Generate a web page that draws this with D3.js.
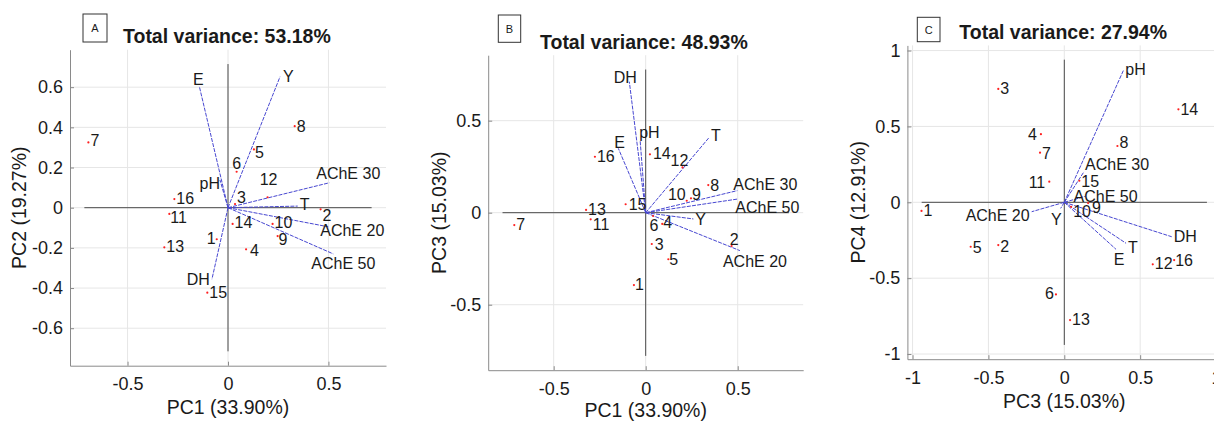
<!DOCTYPE html>
<html>
<head>
<meta charset="utf-8">
<script src="https://cdn.jsdelivr.net/npm/d3@7"></script>
<style>
    body { margin: 0; background: #fff; }
    svg text { font-family: "Liberation Sans", Arial, Helvetica, sans-serif; fill: #1a1a1a; }
</style>
</head>
<body>
<div id="chart"></div>
<script>

/* Observations (samples) and variables */
var obsNames = ["1", "2", "3", "4", "5", "6", "7", "8", "9", "10", "11", "12", "13", "14", "15", "16"];
var varNames = ["E", "Y", "pH", "AChE 30", "T", "AChE 20", "AChE 50", "DH"];

/* Panel A : PC1 vs PC2 */
var scoresA = [[-0.056, -0.157], [0.461, -0.008], [0.035, 0.018], [0.09, -0.207], [0.129, 0.29], [0.043, 0.179],
               [-0.695, 0.325], [0.332, 0.406], [0.247, -0.141], [0.222, -0.081], [-0.292, -0.031], [0.197, 0.052],
               [-0.317, -0.197], [0.023, -0.081], [-0.103, -0.423], [-0.267, 0.043]];
var loadingsA = [[-0.143, 0.605], [0.259, 0.652], [-0.04, 0.138], [0.504, 0.124], [0.347, 0.008], [0.499, -0.095],
                 [0.524, -0.23], [-0.08, -0.356]];

/* Panel B : PC1 vs PC3 */
var scoresB = [[-0.064, -0.393], [0.467, -0.181], [0.033, -0.17], [0.09, -0.061], [0.123, -0.253], [0.04, -0.018],
               [-0.714, -0.067], [0.34, 0.15], [0.246, 0.078], [0.223, 0.065], [-0.299, -0.036], [0.2, 0.246],
               [-0.324, 0.015], [0.023, 0.317], [-0.109, 0.046], [-0.276, 0.304]];
var loadingsB = [[-0.149, 0.35], [0.259, -0.034], [-0.03, 0.39], [0.498, 0.12], [0.344, 0.408], [0.512, -0.206],
                 [0.498, 0.074], [-0.089, 0.712]];

/* Panel C : PC3 vs PC4 */
var scoresC = [[-0.941, -0.057], [-0.435, -0.282], [-0.435, 0.747], [-0.154, 0.449], [-0.617, -0.293], [-0.055, -0.607],
               [-0.16, 0.327], [0.35, 0.371], [0.157, -0.005], [0.045, -0.03], [-0.099, 0.136], [0.583, -0.409],
               [0.038, -0.776], [0.752, 0.613], [0.099, 0.142], [0.724, -0.381]];
var loadingsC = [[0.341, -0.31], [-0.024, -0.04], [0.389, 0.868], [0.13, 0.202], [0.407, -0.27], [-0.215, -0.062],
                 [0.14, 0.04], [0.708, -0.227]];

/* Axis extent of the biplot reference lines */
var axisLens = [0.715, 0.778, 0.94];

/* Texts */
var panelTags = ["A", "B", "C"];
var titles = ["Total variance: 53.18%", "Total variance: 48.93%", "Total variance: 27.94%"];
var xLabels = ["PC1 (33.90%)", "PC1 (33.90%)", "PC3 (15.03%)"];
var yLabels = ["PC2 (19.27%)", "PC3 (15.03%)", "PC4 (12.91%)"];

/* Ticks */
var xTicksA = [-0.5, 0, 0.5], yTicksA = [-0.6, -0.4, -0.2, 0, 0.2, 0.4, 0.6];
var xTicksB = [-0.5, 0, 0.5], yTicksB = [-0.5, 0, 0.5];
var xTicksC = [-1, -0.5, 0, 0.5, 1], yTicksC = [-1, -0.5, 0, 0.5, 1];

/* Label nudges [dx, dy, anchor] (placement only) */
var obsNudgeA = { "1": [-1, 5, "end"], "2": [2, 12], "3": [2, -1], "4": [4, 7], "5": [1, 9], "6": [0, -3, "middle"],
                  "7": [2, 4], "8": [2, 6], "9": [1, 9], "10": [2, 4], "11": [1, 9], "12": [1, -12, "middle"],
                  "14": [2, 4] };
var varNudgeA = { "E": [-1, -1, "middle"], "Y": [3, 5], "pH": [0, 9, "end"], "AChE 30": [-13, -4], "T": [2, 4],
                  "AChE 20": [-8, 9], "AChE 50": [-22, 15], "DH": [-2, 6, "end"] };
var obsNudgeB = { "1": [1, 5], "2": [-2, -1], "3": [3, 6], "4": [1, 4], "5": [1, 6], "6": [1, 15, "middle"],
                  "8": [2, 6], "9": [1, 2], "10": [-1, -1, "end"], "11": [2, 11], "12": [-3, -1, "middle"],
                  "14": [3, 5], "15": [3, 6] };
var varNudgeB = { "DH": [-4, 1, "middle"], "pH": [-1, -3], "E": [-4, 0], "T": [2, 3], "AChE 30": [-4, -1],
                  "AChE 50": [-2, 14], "Y": [2, 6], "AChE 20": [-17, 16] };
var obsNudgeC = { "2": [2, 7], "4": [-4, 6, "end"], "5": [2, 6], "6": [-2, 5, "end"], "7": [2, 6], "8": [2, 2],
                  "9": [4, 10], "10": [2, 10], "11": [-4, 6, "end"], "14": [2, 6], "15": [2, 6], "16": [1, 6] };
var varNudgeC = { "pH": [2, 4], "AChE 30": [1, -2], "AChE 50": [-12, 6], "AChE 20": [-2, 9, "end"],
                  "Y": [1, 17, "end"], "DH": [2, 5], "T": [2, 10], "E": [3, 16, "middle"] };

var fontFamily = "'Liberation Sans', Arial, Helvetica, sans-serif";

var svg = d3.select("#chart")
    .append("svg")
    .attr("width", 1214)
    .attr("height", 421);

function drawBiplot(cfg) {

    var lim = cfg.axisLen * 1.1;
    var x = d3.scaleLinear().domain([-lim, lim]).range([cfg.left, cfg.left + cfg.size]);
    var y = d3.scaleLinear().domain([-lim, lim]).range([cfg.top + cfg.size, cfg.top]);
    var bottom = cfg.top + cfg.size;
    var fmt = function(d) { return String(d); };

    var g = svg.append("g");

    /* Grid */
    g.append("g").selectAll("line")
        .data(cfg.xTicks)
        .enter().append("line")
        .attr("x1", function(d) { return x(d); })
        .attr("x2", function(d) { return x(d); })
        .attr("y1", cfg.top)
        .attr("y2", bottom)
        .attr("stroke", "#e6e6e6");

    g.append("g").selectAll("line")
        .data(cfg.yTicks)
        .enter().append("line")
        .attr("y1", function(d) { return y(d); })
        .attr("y2", function(d) { return y(d); })
        .attr("x1", cfg.left)
        .attr("x2", cfg.left + cfg.size)
        .attr("stroke", "#e6e6e6");

    /* Axes */
    var xAxis = g.append("g")
        .attr("transform", "translate(0," + bottom + ")")
        .call(d3.axisBottom(x).tickValues(cfg.xTicks).tickFormat(fmt)
            .tickSizeInner(-4).tickSizeOuter(0).tickPadding(12));

    var yAxis = g.append("g")
        .attr("transform", "translate(" + cfg.left + ",0)")
        .call(d3.axisLeft(y).tickValues(cfg.yTicks).tickFormat(fmt)
            .tickSizeInner(-4).tickSizeOuter(0).tickPadding(7));

    [xAxis, yAxis].forEach(function(a) {
        a.attr("font-size", 18).attr("font-family", fontFamily);
        a.select(".domain").attr("stroke", "#8a8a8a");
        a.selectAll(".tick line").attr("stroke", "#8a8a8a");
        a.selectAll(".tick text").attr("fill", "#1a1a1a");
    });

    /* Biplot reference lines */
    g.append("line")
        .attr("x1", x(-cfg.axisLen)).attr("x2", x(cfg.axisLen))
        .attr("y1", y(0)).attr("y2", y(0))
        .attr("stroke", "#4a4a4a").attr("stroke-width", 1);
    g.append("line")
        .attr("x1", x(0)).attr("x2", x(0))
        .attr("y1", y(-cfg.axisLen)).attr("y2", y(cfg.axisLen))
        .attr("stroke", "#4a4a4a").attr("stroke-width", 1);

    /* Variable vectors */
    g.append("g").selectAll("line")
        .data(cfg.loadings)
        .enter().append("line")
        .attr("x1", x(0))
        .attr("y1", y(0))
        .attr("x2", function(d) { return x(d[0]); })
        .attr("y2", function(d) { return y(d[1]); })
        .attr("stroke", "#4747d1")
        .attr("stroke-width", 1)
        .attr("stroke-dasharray", "4,1.2");

    g.append("g").selectAll("text")
        .data(cfg.loadings)
        .enter().append("text")
        .attr("font-size", 16)
        .attr("x", function(d) { return x(d[0]); })
        .attr("y", function(d) { return y(d[1]); })
        .attr("dx", function(d, i) { return (cfg.varNudge[varNames[i]] || [2, 5])[0]; })
        .attr("dy", function(d, i) { return (cfg.varNudge[varNames[i]] || [2, 5])[1]; })
        .attr("text-anchor", function(d, i) { return (cfg.varNudge[varNames[i]] || [])[2] || "start"; })
        .text(function(d, i) { return varNames[i]; });

    /* Observations */
    g.append("g").selectAll("circle")
        .data(cfg.scores)
        .enter().append("circle")
        .attr("cx", function(d) { return x(d[0]); })
        .attr("cy", function(d) { return y(d[1]); })
        .attr("r", 1.1)
        .attr("fill", "#ff2020");

    g.append("g").selectAll("text")
        .data(cfg.scores)
        .enter().append("text")
        .attr("font-size", 16)
        .attr("x", function(d) { return x(d[0]); })
        .attr("y", function(d) { return y(d[1]); })
        .attr("dx", function(d, i) { return (cfg.obsNudge[obsNames[i]] || [2, 5])[0]; })
        .attr("dy", function(d, i) { return (cfg.obsNudge[obsNames[i]] || [2, 5])[1]; })
        .attr("text-anchor", function(d, i) { return (cfg.obsNudge[obsNames[i]] || [])[2] || "start"; })
        .text(function(d, i) { return obsNames[i]; });

    /* Title and panel tag */
    g.append("text")
        .attr("x", cfg.titleX)
        .attr("y", cfg.titleY)
        .attr("font-size", 19.5)
        .attr("font-weight", "bold")
        .attr("fill", "#111")
        .text(cfg.title);

    g.append("rect")
        .attr("x", cfg.tagBox[0])
        .attr("y", cfg.tagBox[1])
        .attr("width", cfg.tagBox[2])
        .attr("height", cfg.tagBox[3])
        .attr("fill", "none")
        .attr("stroke", "#333")
        .attr("stroke-width", 1);

    g.append("text")
        .attr("x", cfg.tagBox[0] + cfg.tagBox[2] / 2)
        .attr("y", cfg.tagBox[1] + cfg.tagBox[3] / 2 + 4)
        .attr("text-anchor", "middle")
        .attr("font-size", 11)
        .text(cfg.tag);

    /* Axis labels */
    g.append("text")
        .attr("x", x(0))
        .attr("y", cfg.xLabelY)
        .attr("text-anchor", "middle")
        .attr("font-size", 19.5)
        .text(cfg.xLabel);

    g.append("text")
        .attr("transform", "translate(" + cfg.yLabelX + "," + y(0) + ") rotate(-90)")
        .attr("text-anchor", "middle")
        .attr("font-size", 19.5)
        .text(cfg.yLabel);
}

drawBiplot({ left: 70, top: 49.7, size: 316, axisLen: axisLens[0],
             scores: scoresA, loadings: loadingsA, obsNudge: obsNudgeA, varNudge: varNudgeA,
             xTicks: xTicksA, yTicks: yTicksA, title: titles[0], titleX: 123, titleY: 43,
             tag: panelTags[0], tagBox: [83, 14, 24, 28], xLabel: xLabels[0], xLabelY: 414,
             yLabel: yLabels[0], yLabelX: 26 });

drawBiplot({ left: 488.2, top: 55.2, size: 315, axisLen: axisLens[1],
             scores: scoresB, loadings: loadingsB, obsNudge: obsNudgeB, varNudge: varNudgeB,
             xTicks: xTicksB, yTicks: yTicksB, title: titles[1], titleX: 540, titleY: 48.5,
             tag: panelTags[1], tagBox: [498.3, 15, 22.4, 27.3], xLabel: xLabels[1], xLabelY: 417,
             yLabel: yLabels[1], yLabelX: 446 });

drawBiplot({ left: 907.4, top: 45.4, size: 313.8, axisLen: axisLens[2],
             scores: scoresC, loadings: loadingsC, obsNudge: obsNudgeC, varNudge: varNudgeC,
             xTicks: xTicksC, yTicks: yTicksC, title: titles[2], titleX: 959.3, titleY: 39,
             tag: panelTags[2], tagBox: [917.3, 17.3, 22.7, 24.4], xLabel: xLabels[2], xLabelY: 408,
             yLabel: yLabels[2], yLabelX: 865 });

</script>
</body>
</html>
